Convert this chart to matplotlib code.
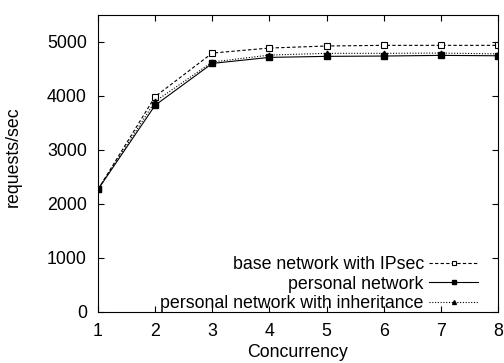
import matplotlib
matplotlib.use("Agg")
import matplotlib.pyplot as plt

concurrency = [1, 2, 3, 4, 5, 6, 7, 8]
base_ipsec = [2270, 3990, 4795, 4888, 4926, 4938, 4938, 4938]
personal = [2270, 3829, 4604, 4715, 4734, 4740, 4752, 4745]
personal_inh = [2270, 3900, 4630, 4758, 4790, 4790, 4795, 4780]

plt.rcParams['font.family'] = ['Liberation Sans', 'DejaVu Sans']
fig = plt.figure(figsize=(5.04, 3.63), dpi=100)
ax = fig.add_axes([98/504, 1-312/363, 400/504, 297/363])

ax.plot(concurrency, base_ipsec, color='black', linestyle=(0, (3, 2)), linewidth=0.8,
        marker='s', markersize=4, markerfacecolor='white', markeredgewidth=0.8,
        label='base network with IPsec')
ax.plot(concurrency, personal, color='black', linestyle='-', linewidth=0.8,
        marker='s', markersize=4.2, markerfacecolor='black', label='personal network')
ax.plot(concurrency, personal_inh, color='black', linestyle=(0, (1, 1.5)), linewidth=0.8,
        marker='^', markersize=3.5, markerfacecolor='black',
        label='personal network with inheritance')

ax.set_xlim(1, 8)
ax.set_ylim(0, 5500)
ax.set_xticks(concurrency)
ax.set_yticks([0, 1000, 2000, 3000, 4000, 5000])
ax.tick_params(direction='in', top=True, right=True, labelsize=12.8, length=4, pad=8)
ax.set_xlabel('Concurrency', fontsize=12.8, labelpad=3)
ax.set_ylabel('requests/sec', fontsize=12.8)
ax.yaxis.set_label_coords(-0.19, 0.522)
for s in ax.spines.values():
    s.set_linewidth(0.8)

ax.legend(loc='lower right', frameon=False, markerfirst=False, fontsize=12.8,
          handlelength=2.75, handletextpad=0.3, labelspacing=0.15, borderaxespad=0.0,
          markerscale=0.8, bbox_to_anchor=(0.968, -0.025))

fig.savefig('out.png', dpi=100)
